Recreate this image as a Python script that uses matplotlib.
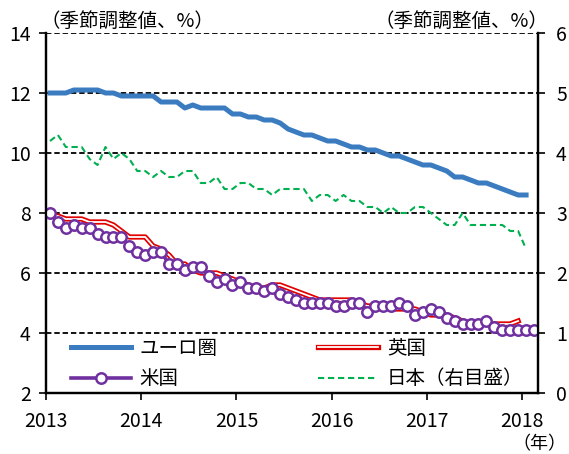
import numpy as np
from matplotlib import pyplot as plt
import matplotlib.patheffects as pe

plt.rcParams['font.family'] = ['Noto Sans CJK JP', 'DejaVu Sans']

# Monthly data, Jan 2013 onwards (left axis: euro, UK, US; right axis: Japan)
euro = [12.0, 12.0, 12.0, 12.1, 12.1, 12.1, 12.1, 12.0, 12.0, 11.9, 11.9, 11.9,
        11.9, 11.9, 11.7, 11.7, 11.7, 11.5, 11.6, 11.5, 11.5, 11.5, 11.5, 11.3,
        11.3, 11.2, 11.2, 11.1, 11.1, 11.0, 10.8, 10.7, 10.6, 10.6, 10.5, 10.4,
        10.4, 10.3, 10.2, 10.2, 10.1, 10.1, 10.0, 9.9, 9.9, 9.8, 9.7, 9.6,
        9.6, 9.5, 9.4, 9.2, 9.2, 9.1, 9.0, 9.0, 8.9, 8.8, 8.7, 8.6,
        8.6]
uk = [7.9, 7.9, 7.8, 7.8, 7.8, 7.7, 7.7, 7.7, 7.6, 7.4, 7.2, 7.2,
      7.2, 6.9, 6.8, 6.6, 6.3, 6.3, 6.1, 6.0, 6.0, 6.0, 5.9, 5.8,
      5.7, 5.6, 5.5, 5.5, 5.6, 5.6, 5.5, 5.4, 5.3, 5.2, 5.1, 5.1,
      5.1, 5.1, 5.1, 5.0, 4.9, 4.9, 4.9, 4.8, 4.8, 4.8, 4.8, 4.7,
      4.6, 4.6, 4.6, 4.5, 4.4, 4.3, 4.3, 4.3, 4.3, 4.3, 4.3, 4.4]
us = [8.0, 7.7, 7.5, 7.6, 7.5, 7.5, 7.3, 7.2, 7.2, 7.2, 6.9, 6.7,
      6.6, 6.7, 6.7, 6.3, 6.3, 6.1, 6.2, 6.2, 5.9, 5.7, 5.8, 5.6,
      5.7, 5.5, 5.5, 5.4, 5.5, 5.3, 5.2, 5.1, 5.0, 5.0, 5.0, 5.0,
      4.9, 4.9, 5.0, 5.0, 4.7, 4.9, 4.9, 4.9, 5.0, 4.9, 4.6, 4.7,
      4.8, 4.7, 4.5, 4.4, 4.3, 4.3, 4.3, 4.4, 4.2, 4.1, 4.1, 4.1,
      4.1, 4.1]
japan = [4.2, 4.3, 4.1, 4.1, 4.1, 3.9, 3.8, 4.1, 3.9, 4.0, 3.9, 3.7,
         3.7, 3.6, 3.7, 3.6, 3.6, 3.7, 3.7, 3.5, 3.5, 3.6, 3.4, 3.4,
         3.5, 3.5, 3.4, 3.4, 3.3, 3.4, 3.4, 3.4, 3.4, 3.2, 3.3, 3.3,
         3.2, 3.3, 3.2, 3.2, 3.1, 3.1, 3.0, 3.1, 3.0, 3.0, 3.1, 3.1,
         3.0, 2.9, 2.8, 2.8, 3.0, 2.8, 2.8, 2.8, 2.8, 2.8, 2.7, 2.7,
         2.4]

years = ['2013', '2014', '2015', '2016', '2017', '2018']
labels = ['ユーロ圏', '英国', '米国', '日本（右目盛）']

COLOR_EURO = '#3B7CC0'
COLOR_UK = '#E00000'
COLOR_US = '#7030A0'
COLOR_JP = '#00B050'
FS = 14

fig = plt.figure(figsize=(5.69, 4.54), dpi=100)
ax = fig.add_axes([46 / 569, 61 / 454, 492 / 569, 360 / 454])
ax2 = ax.twinx()

# dashed grid on the left scale
for v in [4, 6, 8, 10, 12, 14]:
    ax.axhline(v, color='black', lw=1.3, ls=(0, (3, 1.6)), zorder=1)

x_euro = np.arange(len(euro)) + 0.5
x_uk = np.arange(len(uk)) + 0.5
x_us = np.arange(len(us)) + 0.5
x_jp = np.arange(len(japan)) + 0.5

l_euro, = ax.plot(x_euro, euro, color=COLOR_EURO, lw=3.6, zorder=3)
l_uk, = ax.plot(x_uk, uk, color='white', lw=1.3, zorder=3,
                path_effects=[pe.Stroke(linewidth=3.8, foreground=COLOR_UK), pe.Normal()])
l_us, = ax.plot(x_us, us, color=COLOR_US, lw=2.6, marker='o', ms=7.5,
                mfc='white', mec=COLOR_US, mew=1.8, zorder=4)
l_jp, = ax2.plot(x_jp, japan, color=COLOR_JP, lw=1.5, ls=(0, (3, 1.8)))

ax.set_xlim(0, 62)
ax.set_ylim(2, 14)
ax2.set_ylim(0, 6)
ax.set_yticks(range(2, 15, 2))
ax2.set_yticks(range(0, 7))
ax.set_xticks(range(0, 61, 12))
ax.set_xticklabels(years)

for a in (ax, ax2):
    a.spines['top'].set_visible(False)
    for s in ('left', 'right', 'bottom'):
        a.spines[s].set_linewidth(1.6)
ax.tick_params(axis='y', length=5, width=1.2, pad=6, labelsize=FS)
ax.tick_params(axis='x', length=5, width=1.2, pad=8, labelsize=FS)
ax2.tick_params(axis='y', length=5, width=1.2, pad=8, labelsize=FS)

ax2.legend([l_euro, l_us, l_uk, l_jp], [labels[0], labels[2], labels[1], labels[3]],
           ncol=2, frameon=False, fontsize=FS, handlelength=3.1, handletextpad=0.45,
           columnspacing=5.15, labelspacing=0.5, borderpad=0, borderaxespad=0,
           loc='lower left', bbox_to_anchor=(0.05, 0.01))

fig.text(40 / 569, 1 - 21 / 454, '（季節調整値、%）', ha='left', va='center', fontsize=FS)
fig.text(548 / 569, 1 - 21 / 454, '（季節調整値、%）', ha='right', va='center', fontsize=FS)
fig.text(0.995, 1 / 454, '（年）', ha='right', va='bottom', fontsize=13)

fig.savefig('out.png', dpi=100)
